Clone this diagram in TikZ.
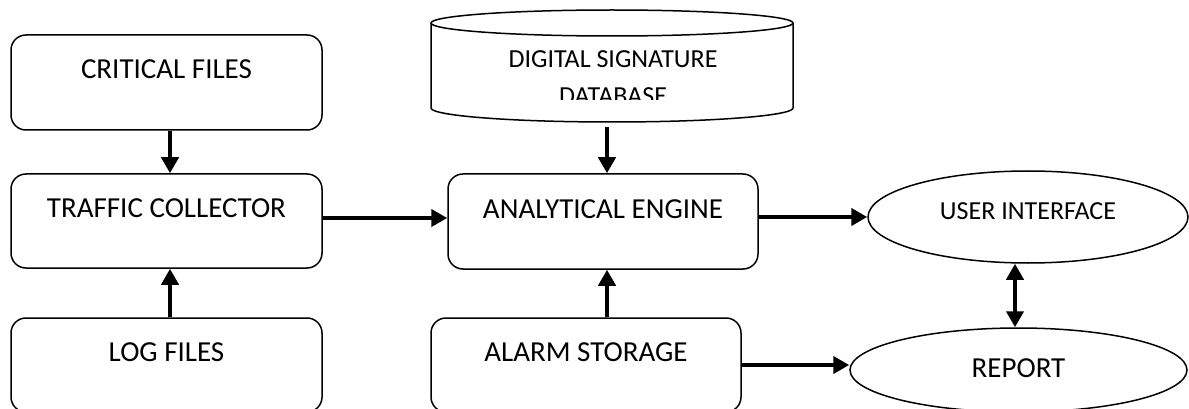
\documentclass[tikz,border=0pt]{standalone}
\usepackage{fontspec}
\setmainfont{Carlito}
\usetikzlibrary{arrows.meta,shapes.geometric}
\begin{document}
\begin{tikzpicture}[x=1pt,y=-1pt,
  box/.style={draw, line width=1.5pt, rounded corners=15pt, minimum width=311pt,
    minimum height=94pt, inner sep=0pt, font=\fontsize{29}{35}\selectfont,
    text height=20pt, text depth=27pt},
  oval/.style={draw, ellipse, line width=1.5pt, inner sep=0pt},
  dbtext/.style={anchor=base, inner sep=0pt, font=\fontsize{26}{31}\selectfont},
  arr/.style={line width=4pt, -{Triangle[length=16pt,width=17pt]}},
  darr/.style={line width=4pt, {Triangle[length=16pt,width=17pt]}-{Triangle[length=16pt,width=17pt]}}]
\path[use as bounding box, clip] (0,0) rectangle (1189,409);

\node[box, minimum height=95pt] (cf) at (166.5,82.5) {CRITICAL FILES};
\node[box] (tc) at (166.5,221) {TRAFFIC COLLECTOR};
\node[box] (lf) at (166.5,365) {LOG FILES};
\node[box, minimum width=310pt, minimum height=95pt] (ae) at (603,221.5) {ANALYTICAL ENGINE};
\node[box, minimum width=310pt] (as) at (586,365) {ALARM STORAGE};
\node[oval, minimum width=320pt, minimum height=92pt, font=\fontsize{26}{31}\selectfont,
  text height=18pt, text depth=13.4pt] (ui) at (1028,217) {USER INTERFACE};
\node[oval, minimum width=337pt, minimum height=84pt, font=\fontsize{29}{35}\selectfont,
  text height=20pt, text depth=6pt] (rp) at (1018.5,370) {REPORT};

% database cylinder
\draw[line width=1.5pt] (612,23) ellipse [x radius=181, y radius=13];
\draw[line width=1.5pt] (431,23) -- (431,108)
  arc[start angle=180, end angle=0, x radius=181, y radius=14] -- (793,23);
\node[minimum width=362pt, minimum height=99pt, inner sep=0pt] (db) at (612,72.5) {};
\begin{scope}
  \clip (431,23) rectangle (793,100);
  \node[dbtext] (dbt1) at (613,67.5) {DIGITAL SIGNATURE};
  \node[dbtext] (dbt2) at (613,104.5) {DATABASE};
\end{scope}

% connectors
\draw[arr] ([xshift=3.5pt]cf.south) -- ([xshift=3.5pt]tc.north);
\draw[arr] ([xshift=3.5pt]lf.north) -- ([xshift=3.5pt]tc.south);
\draw[arr] ([yshift=3pt]tc.east) -- ([yshift=3pt]tc.east -| ae.west);
\draw[arr] ([xshift=-5pt,yshift=-5pt]db.south) -- ([xshift=4pt]ae.north);
\draw[arr] ([xshift=21pt]as.north) -- ([xshift=4pt]ae.south);
\draw[arr] (ae.east |- ui.west) -- (ui.west);
\draw[darr] ([xshift=-13pt]ui.south) -- ([xshift=-3.5pt]rp.north);
\draw[arr] (as.east) -- (as.east -| rp.west);
\end{tikzpicture}
\end{document}
